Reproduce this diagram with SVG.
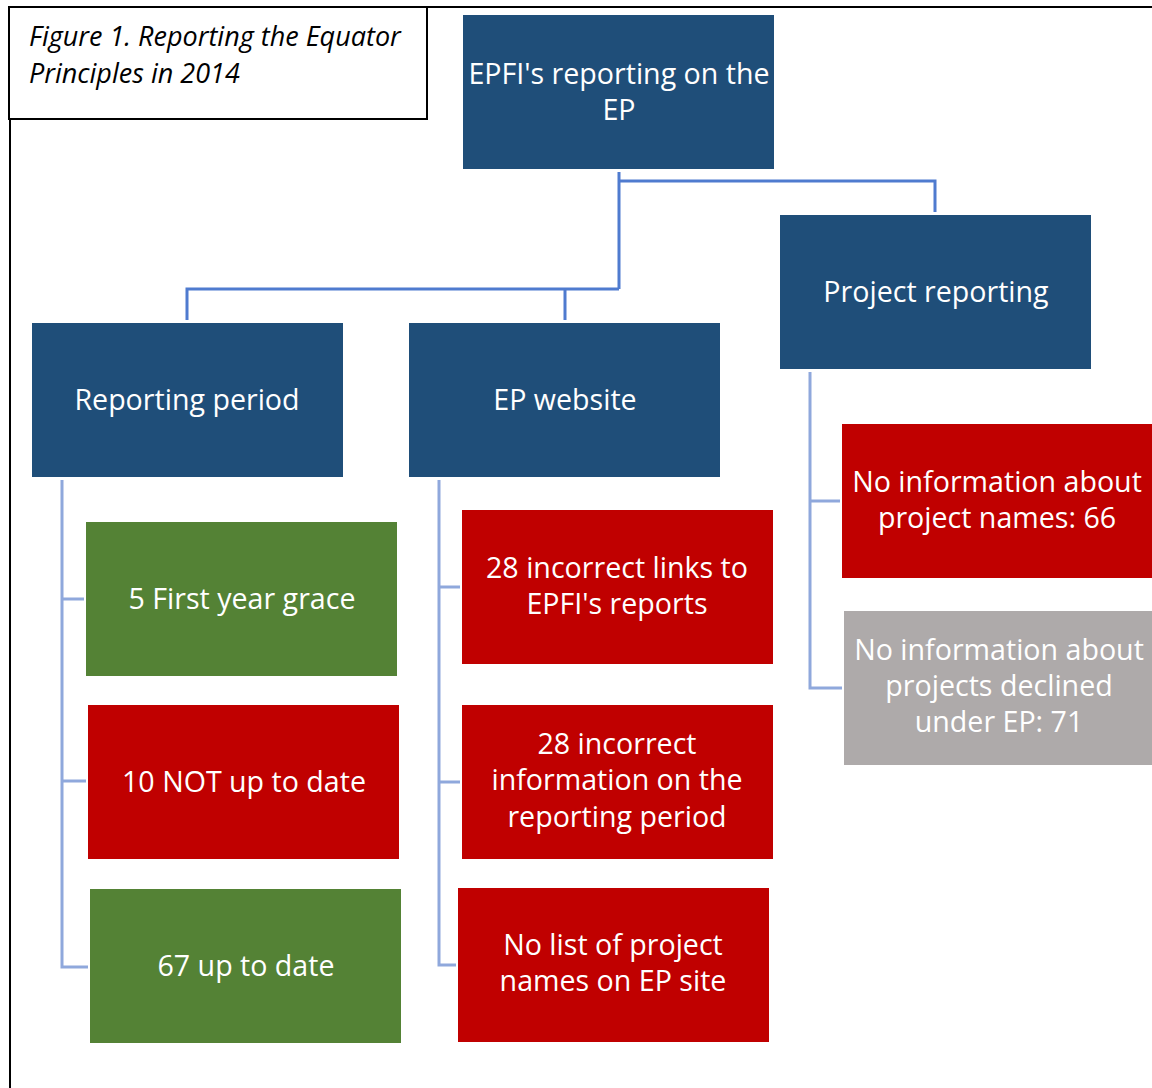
<svg xmlns="http://www.w3.org/2000/svg" width="1152" height="1088" viewBox="0 0 1152 1088">
<style>
  .t { font-family: "Open Sans", "Liberation Sans", sans-serif; font-size: 28.6px; fill: #ffffff; text-anchor: middle; }
  .title { font-family: "Open Sans", "Liberation Sans", sans-serif; font-size: 27px; font-style: italic; fill: #000000; }
  .blue { fill: #1F4E79; }
  .red { fill: #C00000; }
  .green { fill: #548235; }
  .gray { fill: #AEAAAA; }
  .c1 { fill: none; stroke: #4F7BCF; stroke-width: 3; }
  .c2 { fill: none; stroke: #8FA8DC; stroke-width: 3; }
  .frame { fill: none; stroke: #000000; stroke-width: 2; }
</style>
<rect x="0" y="0" width="1152" height="1088" fill="#ffffff"/>
<g id="frame">
  <path class="frame" d="M427,7 H1152 M10,119 V1088"/>
</g>
<g id="title">
  <rect class="frame" x="9" y="7" width="418" height="112"/>
  <text class="title" x="29" y="46">Figure 1. Reporting the Equator</text>
  <text class="title" x="29" y="83">Principles in 2014</text>
</g>
<g id="connectors">
  <path class="c1" d="M619,172 V289 M619,181 H935 V212 M619,289 H187 V320 M565,289 V320"/>
  <path class="c2" d="M62,480 V967 H88 M62,599 H84 M62,781 H86"/>
  <path class="c2" d="M439,480 V965 H456 M439,587 H460 M439,782 H460"/>
  <path class="c2" d="M810,372 V688 H842 M810,501 H840"/>
</g>
<g id="n-root">
  <rect class="blue" x="463" y="15" width="311" height="154"/>
  <text class="t" x="619" y="84">EPFI's reporting on the</text>
  <text class="t" x="619" y="120">EP</text>
</g>
<g id="n-project">
  <rect class="blue" x="780" y="215" width="311" height="154"/>
  <text class="t" x="936" y="302">Project reporting</text>
</g>
<g id="n-period">
  <rect class="blue" x="32" y="323" width="311" height="154"/>
  <text class="t" x="187" y="410">Reporting period</text>
</g>
<g id="n-website">
  <rect class="blue" x="409" y="323" width="311" height="154"/>
  <text class="t" x="565" y="410">EP website</text>
</g>
<g id="n-grace">
  <rect class="green" x="86" y="522" width="311" height="154"/>
  <text class="t" x="242" y="609">5 First year grace</text>
</g>
<g id="n-notuptodate">
  <rect class="red" x="88" y="705" width="311" height="154"/>
  <text class="t" x="244" y="792">10 NOT up to date</text>
</g>
<g id="n-uptodate">
  <rect class="green" x="90" y="889" width="311" height="154"/>
  <text class="t" x="246" y="976">67 up to date</text>
</g>
<g id="n-links">
  <rect class="red" x="462" y="510" width="311" height="154"/>
  <text class="t" x="617" y="578">28 incorrect links to</text>
  <text class="t" x="617" y="614">EPFI's reports</text>
</g>
<g id="n-info">
  <rect class="red" x="462" y="705" width="311" height="154"/>
  <text class="t" x="617" y="754">28 incorrect</text>
  <text class="t" x="617" y="790">information on the</text>
  <text class="t" x="617" y="827">reporting period</text>
</g>
<g id="n-nolist">
  <rect class="red" x="458" y="888" width="311" height="154"/>
  <text class="t" x="613" y="955">No list of project</text>
  <text class="t" x="613" y="991">names on EP site</text>
</g>
<g id="n-names">
  <rect class="red" x="842" y="424" width="311" height="154"/>
  <text class="t" x="997" y="492">No information about</text>
  <text class="t" x="997" y="528">project names: 66</text>
</g>
<g id="n-declined">
  <rect class="gray" x="844" y="611" width="311" height="154"/>
  <text class="t" x="999" y="660">No information about</text>
  <text class="t" x="999" y="696">projects declined</text>
  <text class="t" x="999" y="732">under EP: 71</text>
</g>
</svg>
